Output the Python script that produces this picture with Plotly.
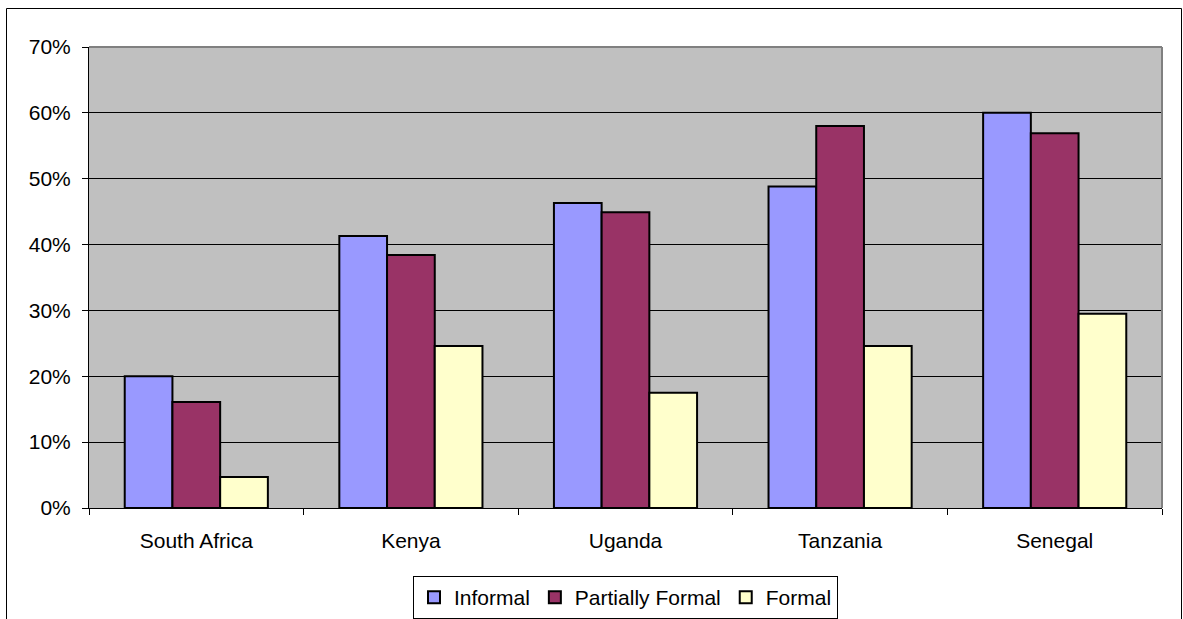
import plotly.graph_objects as go

countries = ["South Africa", "Kenya", "Uganda", "Tanzania", "Senegal"]
informal = [20.0, 41.3, 46.3, 48.8, 60.0]
partially_formal = [16.1, 38.4, 44.9, 58.0, 56.9]
formal = [4.7, 24.6, 17.5, 24.6, 29.5]

series = [
    ("Informal", informal, "#9999FF"),
    ("Partially Formal", partially_formal, "#993366"),
    ("Formal", formal, "#FFFFCC"),
]

W, H = 1183, 619
ML, MR, MT, MB = 89, 21, 47, 111
PW, PH = W - ML - MR, H - MT - MB

def px_x(x):
    return (x - ML) / PW

def px_y(y):
    return (H - MB - y) / PH

FONT = "Liberation Sans, Arial, sans-serif"

fig = go.Figure()
for name, vals, color in series:
    fig.add_trace(go.Bar(
        name=name, x=countries, y=vals,
        marker=dict(color=color, line=dict(color="black", width=2)),
    ))

fig.update_layout(
    width=W, height=H,
    margin=dict(l=ML, r=MR, t=MT, b=MB, pad=0),
    barmode="group", bargap=0.333, bargroupgap=0,
    plot_bgcolor="#C0C0C0", paper_bgcolor="white",
    font=dict(family=FONT, size=21, color="black"),
    showlegend=True,
    legend=dict(
        orientation="h", xref="paper", x=0.5, xanchor="center",
        yref="container", y=(H - 576) / H, yanchor="top",
        bgcolor="white", bordercolor="black", borderwidth=1,
        font=dict(family=FONT, size=21), itemwidth=30, tracegroupgap=0,
    ),
    xaxis=dict(
        showline=True, linecolor="black", linewidth=1,
        ticks="outside", ticklen=6, tickcolor="black", tickson="boundaries",
        ticklabelstandoff=14, showgrid=False, automargin=False,
    ),
    yaxis=dict(
        range=[0, 70], dtick=10, ticksuffix="%",
        showline=True, linecolor="black", linewidth=1,
        ticks="outside", ticklen=6, tickcolor="black",
        ticklabelstandoff=7, automargin=False,
        showgrid=True, gridcolor="black", gridwidth=1, zeroline=False,
    ),
    shapes=[
        # plot-area frame, top and right edges
        dict(type="line", xref="paper", yref="paper", x0=0, x1=1, y0=1, y1=1,
             line=dict(color="#808080", width=2)),
        dict(type="line", xref="paper", yref="paper", x0=1, x1=1, y0=0, y1=1,
             line=dict(color="#808080", width=2)),
        # outer chart frame
        dict(type="rect", xref="paper", yref="paper",
             x0=px_x(6.5), x1=px_x(1181.5), y0=px_y(640), y1=px_y(8.5),
             line=dict(color="black", width=1), fillcolor="rgba(0,0,0,0)"),
    ],
)

fig.write_html("out.html")
